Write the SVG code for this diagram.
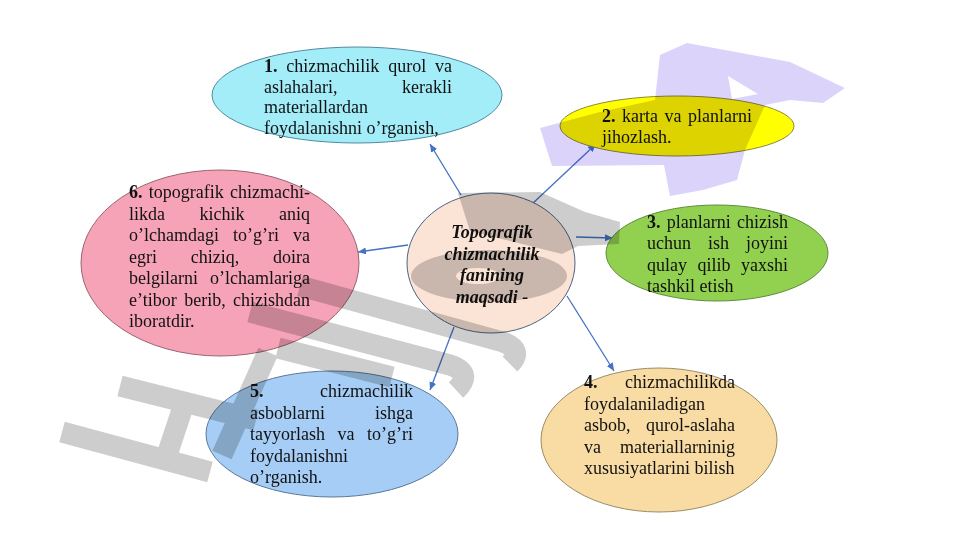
<svg xmlns="http://www.w3.org/2000/svg" width="960" height="540" viewBox="0 0 960 540">
<defs>
<style>
.t{font-family:"Liberation Serif","Times New Roman",serif;font-size:18px;fill:#111}
.b{font-weight:bold}
.c{font-family:"Liberation Serif","Times New Roman",serif;font-size:18px;font-weight:bold;font-style:italic;text-anchor:middle;fill:#111}
.conn{stroke:#4472c4;stroke-width:1.3;fill:none;marker-end:url(#ah)}
.wm{mix-blend-mode:multiply}
.g{fill:none;stroke:#cdcdcd;stroke-width:21;stroke-linecap:butt;stroke-linejoin:round}
.gf{fill:#cdcdcd}
</style>
<marker id="ah" markerUnits="userSpaceOnUse" markerWidth="9" markerHeight="8" refX="8" refY="3.5" orient="auto"><path d="M0,0 L8,3.5 L0,7 z" fill="#4472c4"/></marker>
</defs>
<rect width="960" height="540" fill="#fff"/>

<g id="connectors">
<line class="conn" x1="461" y1="195" x2="430" y2="144"/>
<line class="conn" x1="532" y1="204" x2="596" y2="144"/>
<line class="conn" x1="576" y1="237" x2="613" y2="238"/>
<line class="conn" x1="567" y1="296" x2="614" y2="371"/>
<line class="conn" x1="454" y1="327" x2="430" y2="390"/>
<line class="conn" x1="408" y1="245" x2="358" y2="252"/>
</g>

<g id="node-center">
<ellipse cx="491" cy="263" rx="84" ry="70" fill="#fbe3d6" stroke="#4a6584" stroke-width="1"/>
<text class="c" x="492" y="238">Topografik</text>
<text class="c" x="492" y="259.5">chizmachilik</text>
<text class="c" x="492" y="281">fanining</text>
<text class="c" x="492" y="302.5">maqsadi -</text>
</g>

<g id="node-1">
<ellipse cx="357" cy="95" rx="145" ry="48" fill="#a3edf9" stroke="#4f8aa0" stroke-width="1"/>
<text class="t" y="72"><tspan class="b" x="264">1.</tspan><tspan x="286.3">chizmachilik</tspan><tspan x="388.2">qurol</tspan><tspan x="435">va</tspan></text>
<text class="t" y="92.5"><tspan x="264">aslahalari,</tspan><tspan x="402">kerakli</tspan></text>
<text class="t" x="264" y="113">materiallardan</text>
<text class="t" x="264" y="133.5">foydalanishni o’rganish,</text>
</g>

<g id="node-2">
<ellipse cx="677" cy="126" rx="117" ry="30" fill="#ffff00" stroke="#8c8a3c" stroke-width="1"/>
<text class="t" y="122"><tspan class="b" x="602">2.</tspan><tspan x="622">karta</tspan><tspan x="664.5">va</tspan><tspan x="688">planlarni</tspan></text>
<text class="t" x="602" y="143">jihozlash.</text>
</g>

<g id="node-3">
<ellipse cx="717" cy="253" rx="111" ry="48" fill="#92d050" stroke="#5f8c3c" stroke-width="1"/>
<text class="t" y="227.5"><tspan class="b" x="647">3.</tspan><tspan x="666.75">planlarni</tspan><tspan x="737">chizish</tspan></text>
<text class="t" y="249"><tspan x="647">uchun</tspan><tspan x="708">ish</tspan><tspan x="746">joyini</tspan></text>
<text class="t" y="270.5"><tspan x="647">qulay</tspan><tspan x="697.5">qilib</tspan><tspan x="741">yaxshi</tspan></text>
<text class="t" x="647" y="292">tashkil etish</text>
</g>

<g id="node-4">
<ellipse cx="659" cy="440" rx="118" ry="72" fill="#f8dca4" stroke="#9a8c66" stroke-width="1"/>
<text class="t" y="388"><tspan class="b" x="584">4.</tspan><tspan x="625">chizmachilikda</tspan></text>
<text class="t" x="584" y="409.5">foydalaniladigan</text>
<text class="t" y="431"><tspan x="584">asbob,</tspan><tspan x="646">qurol-aslaha</tspan></text>
<text class="t" y="452.5"><tspan x="584">va</tspan><tspan x="620">materiallarninig</tspan></text>
<text class="t" x="584" y="474">xususiyatlarini bilish</text>
</g>

<g id="node-5">
<ellipse cx="332" cy="434" rx="126" ry="63" fill="#a6cdf6" stroke="#5a7898" stroke-width="1"/>
<text class="t" y="397"><tspan class="b" x="250">5.</tspan><tspan x="320">chizmachilik</tspan></text>
<text class="t" y="418.5"><tspan x="250">asboblarni</tspan><tspan x="375">ishga</tspan></text>
<text class="t" y="440"><tspan x="250">tayyorlash</tspan><tspan x="337.5">va</tspan><tspan x="367">to’g’ri</tspan></text>
<text class="t" x="250" y="461.5">foydalanishni</text>
<text class="t" x="250" y="483">o’rganish.</text>
</g>

<g id="node-6">
<ellipse cx="220" cy="263" rx="139" ry="93" fill="#f6a3b7" stroke="#9a6472" stroke-width="1"/>
<text class="t" y="198"><tspan class="b" x="129">6.</tspan><tspan x="148.75">topografik</tspan><tspan x="230">chizmachi-</tspan></text>
<text class="t" y="219.5"><tspan x="129">likda</tspan><tspan x="199.5">kichik</tspan><tspan x="279">aniq</tspan></text>
<text class="t" y="241"><tspan x="129">o’lchamdagi</tspan><tspan x="233">to’g’ri</tspan><tspan x="293">va</tspan></text>
<text class="t" y="262.5"><tspan x="129">egri</tspan><tspan x="190.75">chiziq,</tspan><tspan x="273">doira</tspan></text>
<text class="t" y="284"><tspan x="129">belgilarni</tspan><tspan x="210">o’lchamlariga</tspan></text>
<text class="t" y="305.5"><tspan x="129">e’tibor</tspan><tspan x="184.25">berib,</tspan><tspan x="233">chizishdan</tspan></text>
<text class="t" x="129" y="327">iboratdir.</text>
</g>

<g id="watermark" class="wm">
<path fill="#dcd3fb" fill-rule="evenodd" d="M660,55 L687,43 L790,62 L845,88 L823,103 L790,100 L765,105 L745,150 L737,180 L703,190 L670,196 L664,165 L552,166 L540,128 L600,112 L655,100 Z M728,76 L758,94 L732,99 Z"/>
<path class="gf" fill-rule="evenodd" d="M411,276 a78,26 0 1,0 156,0 a78,26 0 1,0 -156,0 Z M456,276 a22,8 0 1,0 44,0 a22,8 0 1,0 -44,0 Z"/>
<path class="gf" d="M458,193 L540,192 L585,212 L620,222 L619,244 L578,246 L562,254 L470,231 Z"/>
<path class="g" d="M300,286 L503,342 Q524,350 510,364"/>
<path class="g" d="M250,312 L450,365 Q474,373 456,390"/>
<path class="g" d="M278,348 L392,377"/>
<path class="g" d="M268,352 L222,455"/>
<path class="g" d="M120,386 L256,420"/>
<path class="g" d="M62,432 L210,472"/>
<path class="g" d="M184,404 L166,458"/>
</g>
</svg>
